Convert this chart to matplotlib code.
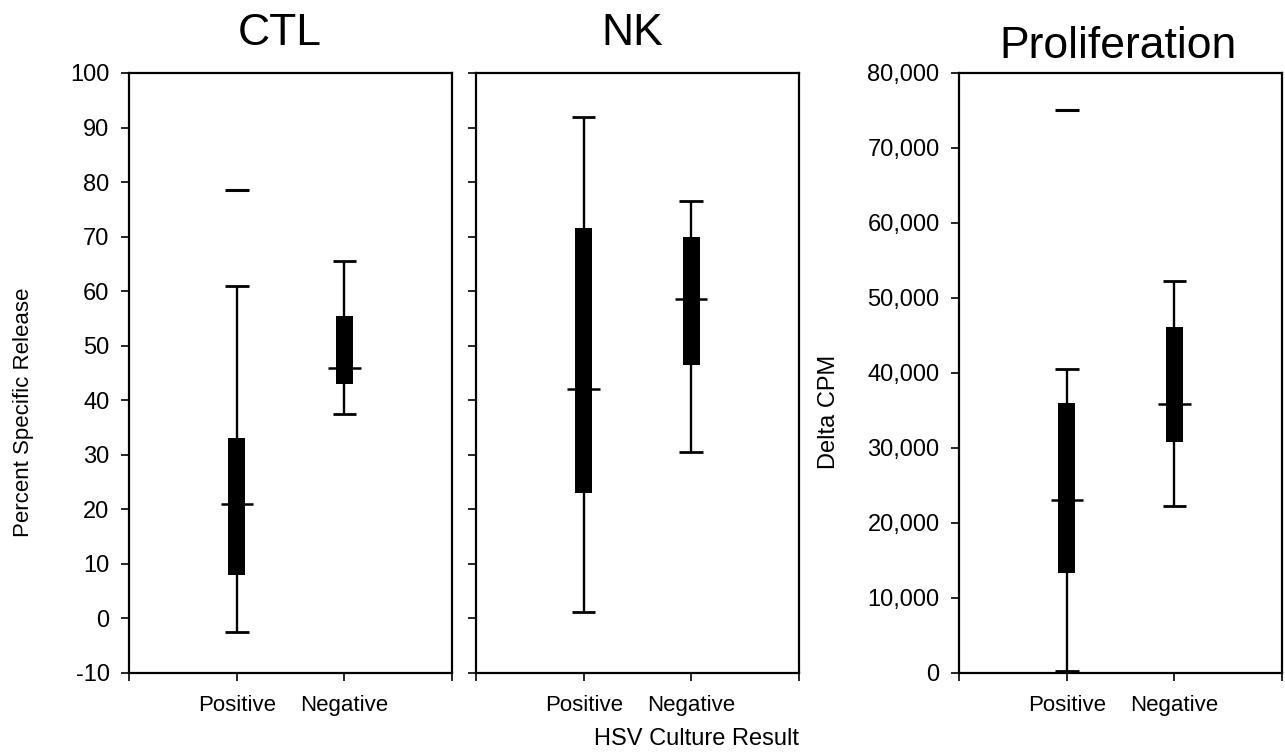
import matplotlib
matplotlib.use("Agg")
import matplotlib.pyplot as plt

plt.rcParams["font.family"] = ["Liberation Sans", "DejaVu Sans"]

groups = ["Positive", "Negative"]

# CTL (percent specific release)
ctl_low = [-2.5, 37.5]
ctl_q1 = [8.0, 43.0]
ctl_med = [21.0, 46.0]
ctl_q3 = [33.0, 55.5]
ctl_high = [61.0, 65.5]
ctl_out = [78.5, None]

# NK (percent specific release)
nk_low = [1.2, 30.5]
nk_q1 = [23.0, 46.5]
nk_med = [42.0, 58.5]
nk_q3 = [71.5, 70.0]
nk_high = [92.0, 76.5]
nk_out = [None, None]

# Proliferation (delta CPM)
pro_low = [300, 22250]
pro_q1 = [13300, 30800]
pro_med = [23000, 35800]
pro_q3 = [36000, 46100]
pro_high = [40500, 52200]
pro_out = [75100, None]

pct_ticks = list(range(-10, 101, 10))
cpm_ticks = list(range(0, 80001, 10000))

fig = plt.figure(figsize=(12.85, 7.56), dpi=100)

H = 0.7937
B = 0.1098
ax1 = fig.add_axes([0.1004, B, 0.2514, H])
ax2 = fig.add_axes([0.3704, B, 0.2514, H])
ax3 = fig.add_axes([0.7463, B, 0.2514, H])


def draw_boxes(ax, low, q1, med, q3, high, out):
    xs = [1, 2]
    for i, x in enumerate(xs):
        ax.vlines(x, low[i], high[i], color="black", lw=1.7, zorder=2)
        ax.hlines([low[i], high[i]], x - 0.11, x + 0.11, color="black", lw=2.0, zorder=2)
        ax.bar(x, q3[i] - q1[i], bottom=q1[i], width=0.16, color="black", zorder=3)
        ax.hlines(med[i], x - 0.15, x + 0.15, color="black", lw=1.8, zorder=4)
        if out[i] is not None:
            ax.hlines(out[i], x - 0.11, x + 0.11, color="black", lw=2.2, zorder=2)


draw_boxes(ax1, ctl_low, ctl_q1, ctl_med, ctl_q3, ctl_high, ctl_out)
draw_boxes(ax2, nk_low, nk_q1, nk_med, nk_q3, nk_high, nk_out)
draw_boxes(ax3, pro_low, pro_q1, pro_med, pro_q3, pro_high, pro_out)

for ax in (ax1, ax2, ax3):
    ax.set_xlim(0, 3)
    ax.set_xticks([0, 1, 2, 3])
    ax.set_xticklabels([""] + groups + [""], fontsize=16)
    for s in ax.spines.values():
        s.set_linewidth(1.6)
    ax.tick_params(direction="out", length=6, width=1.2, labelsize=17, pad=8)
    ax.tick_params(axis="x", pad=10, labelsize=16)

for ax in (ax1, ax2):
    ax.set_ylim(-10, 100)
    ax.set_yticks(pct_ticks)

ax1.set_yticklabels([str(t) for t in pct_ticks])
ax2.set_yticklabels([])

ax3.set_ylim(0, 80000)
ax3.set_yticks(cpm_ticks)
ax3.set_yticklabels([f"{t:,}" for t in cpm_ticks])

fig.text(0.218, 0.940, "CTL", fontsize=32, ha="center", va="baseline")
fig.text(0.492, 0.940, "NK", fontsize=32, ha="center", va="baseline")
fig.text(0.870, 0.923, "Proliferation", fontsize=32, ha="center", va="baseline")

fig.text(0.018, 0.455, "Percent Specific Release", fontsize=16, rotation=90,
         ha="center", va="center")
fig.text(0.645, 0.455, "Delta CPM", fontsize=17, rotation=90,
         ha="center", va="center")
fig.text(0.542, 0.022, "HSV Culture Result", fontsize=17, ha="center", va="center")

fig.savefig("out.png", dpi=100)
